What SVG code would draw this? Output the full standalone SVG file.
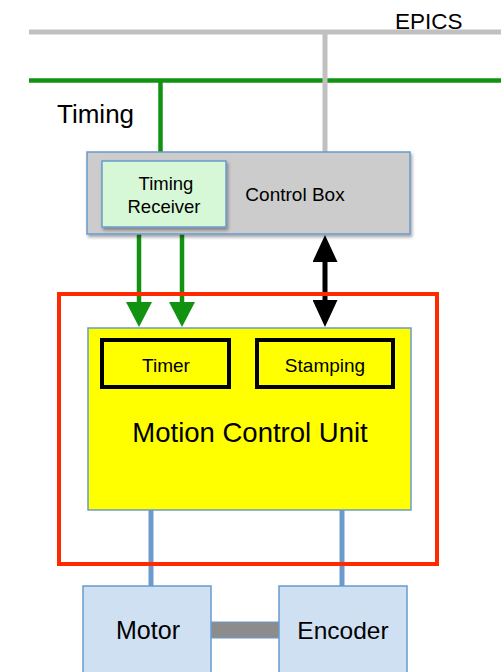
<svg xmlns="http://www.w3.org/2000/svg" width="501" height="672" viewBox="0 0 501 672">
<style>
text{font-family:"Liberation Sans",Arial,sans-serif;fill:#000}
.box{stroke:#6a9bd0;stroke-width:1.5}
.inner{fill:#ffff00;stroke:#000;stroke-width:4}
.gline{stroke:#119211;stroke-width:4.5;fill:none}
.eline{stroke:#c0c0c0;stroke-width:5;fill:none}
.bline{stroke:#6a9bcc;stroke-width:5;fill:none}
</style>
<defs>
<filter id="sh" x="-10%" y="-10%" width="130%" height="140%">
<feDropShadow dx="1.5" dy="2.5" stdDeviation="1.8" flood-color="#000" flood-opacity="0.35"/>
</filter>
<marker id="ag" markerUnits="userSpaceOnUse" viewBox="0 0 25 26" refX="0" refY="13" markerWidth="25" markerHeight="26" orient="auto">
<path d="M0,0 L25,13 L0,26 z" fill="#119211"/>
</marker>
<marker id="ab" markerUnits="userSpaceOnUse" viewBox="0 0 27 25" refX="0" refY="12.5" markerWidth="27" markerHeight="25" orient="auto-start-reverse">
<path d="M0,0 L27,12.5 L0,25 z" fill="#000"/>
</marker>
</defs>

<g id="buses">
<line class="eline" x1="29" y1="32" x2="501" y2="32"/>
<line class="gline" x1="29" y1="80.5" x2="501" y2="80.5"/>
<text x="395" y="29" font-size="22.5">EPICS</text>
<text x="57" y="123" font-size="26">Timing</text>
</g>

<g id="connectors">
<line class="gline" x1="160.5" y1="80" x2="160.5" y2="152"/>
<line class="eline" x1="325" y1="32" x2="325" y2="152"/>
<line class="gline" x1="139" y1="234" x2="139" y2="302" stroke-width="5" marker-end="url(#ag)"/>
<line class="gline" x1="182" y1="234" x2="182" y2="302" stroke-width="5" marker-end="url(#ag)"/>
<line x1="325" y1="262" x2="325" y2="300" stroke="#000" stroke-width="5" marker-start="url(#ab)" marker-end="url(#ab)"/>
<line class="bline" x1="151" y1="510" x2="151" y2="586"/>
<line class="bline" x1="342" y1="508" x2="342" y2="586"/>
<rect x="211" y="622" width="68" height="16" fill="#8c8c8c" stroke="#6a9bd0" stroke-width="1"/>
</g>

<g id="control-box">
<rect class="box" x="87" y="152" width="323" height="82" fill="#cccccc" filter="url(#sh)"/>
<text x="295" y="201" font-size="19" text-anchor="middle">Control Box</text>
</g>

<g id="timing-receiver">
<rect class="box" x="102" y="161" width="124" height="66" fill="#d7f8d7" filter="url(#sh)"/>
<text x="166" y="190" font-size="18.5" text-anchor="middle">Timing</text>
<text x="164" y="213" font-size="18.5" text-anchor="middle">Receiver</text>
</g>

<g id="red-frame">
<rect x="59" y="294" width="378" height="270" fill="none" stroke="#ff2a00" stroke-width="4"/>
</g>

<g id="motion-control-unit">
<rect class="box" x="88" y="328" width="323" height="182" fill="#ffff00"/>
<text x="250" y="442" font-size="27.5" text-anchor="middle">Motion Control Unit</text>
</g>

<g id="timer">
<rect class="inner" x="102" y="340" width="127" height="47"/>
<text x="166" y="372" font-size="19" text-anchor="middle">Timer</text>
</g>

<g id="stamping">
<rect class="inner" x="257" y="340" width="136" height="47"/>
<text x="325" y="372" font-size="19" text-anchor="middle">Stamping</text>
</g>

<g id="motor">
<rect class="box" x="83" y="586" width="128" height="90" fill="#cfe0f2"/>
<text x="148" y="639" font-size="25" text-anchor="middle">Motor</text>
</g>

<g id="encoder">
<rect class="box" x="279" y="586" width="128" height="90" fill="#cfe0f2"/>
<text x="343" y="639" font-size="24.5" text-anchor="middle">Encoder</text>
</g>
</svg>
